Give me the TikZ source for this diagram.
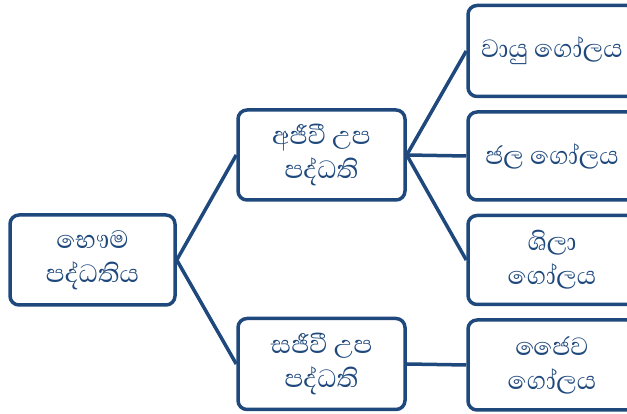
\documentclass[tikz,border=0pt]{standalone}
\usepackage{fontspec}
\newfontfamily\sinfont[Script=Sinhala]{Abhaya Libre}
\usepackage{tikz}
\usetikzlibrary{positioning}
\definecolor{sysblue}{HTML}{1F497D}
\tikzset{
    sysbox/.style={draw=sysblue, line width=3.5pt, rounded corners=9pt, fill=white,
        inner sep=0pt, align=center, text=sysblue, font=\sinfont\fontsize{32}{34}\selectfont},
    link/.style={draw=sysblue, line width=3.5pt},
}
\begin{document}
\begin{tikzpicture}[x=1pt, y=1pt]
	\useasboundingbox (0,0) rectangle (627,414);
	\clip (0,0) rectangle (627,414);
	% left column
	\node[sysbox, minimum width=165pt, minimum height=90pt] (earth) at (92.5,154) {භෞම\\පද්ධතිය};
	% middle column
	\node[sysbox, minimum width=167pt, minimum height=90pt] (abio) at (321.5,259) {අජීවී උප\\පද්ධති};
	\node[sysbox, minimum width=167pt, minimum height=91pt] (bio) at (321.5,50) {සජීවී උප\\පද්ධති};
	% right column
	\node[sysbox, minimum width=168pt, minimum height=91pt] (air) at (552,363) {වායු ගෝලය};
	\node[sysbox, minimum width=168pt, minimum height=88pt] (water) at (552,258) {ජල ගෝලය};
	\node[sysbox, minimum width=168pt, minimum height=89pt] (rock) at (552,154) {ශිලා\\ගෝලය};
	\node[sysbox, minimum width=168pt, minimum height=90pt] (life) at (552,49) {ජෛව\\ගෝලය};
	% links
	\draw[link] (earth.east)--(abio.west);
	\draw[link] (earth.east)--(bio.west);
	\draw[link] (abio.east)--(air.west);
	\draw[link] (abio.east)--(water.west);
	\draw[link] (abio.east)--(rock.west);
	\draw[link] (bio.east)--(life.west);
\end{tikzpicture}
\end{document}
